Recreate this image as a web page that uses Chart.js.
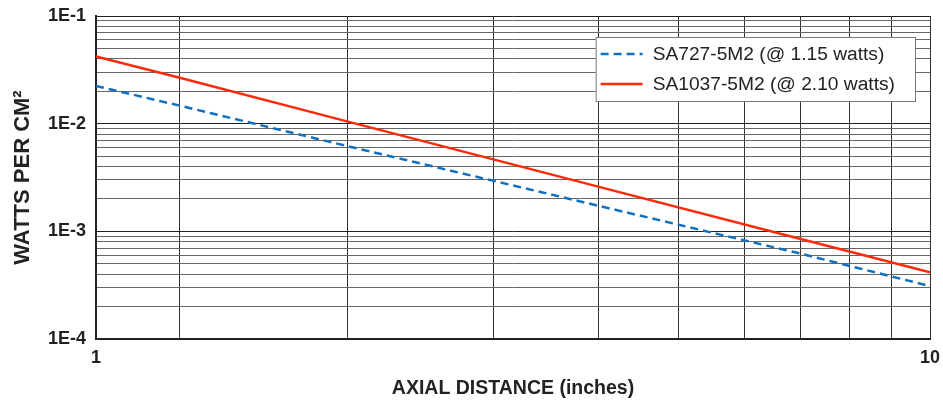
<!DOCTYPE html>
<html>
<head>
<meta charset="utf-8">
<script src="https://cdn.jsdelivr.net/npm/chart.js@4"></script>
<style>
	html, body { margin: 0; padding: 0; background: #fff; }
	#wrap { width: 943px; height: 400px; }
</style>
</head>
<body>
<div id="wrap"><canvas id="irradianceChart" width="943" height="400"></canvas></div>
<script>

// values (axial distance in inches, watts per cm2)
const distances = [1, 1.26, 2, 4, 7, 10];
const sa727 = [0.0224, 0.0147, 0.0062, 0.00173, 0.00062, 0.00031];
const sa1037 = [0.042, 0.0267, 0.0105, 0.0026, 0.00085, 0.000416];
const seriesNames = ['SA727-5M2 (@ 1.15 watts)', 'SA1037-5M2 (@ 2.10 watts)'];

// grid / tick positions
const xTicks = [1, 1.26, 2, 3, 4, 5, 6, 7, 8, 9, 10];
const xTickLabels = { 1: '1', 10: '10' };
const yTicks = [
	1e-4, 2e-4, 3e-4, 4e-4, 5e-4, 6e-4, 7e-4, 8e-4, 9e-4,
	1e-3, 2e-3, 3e-3, 4e-3, 5e-3, 6e-3, 7e-3, 8e-3, 9e-3,
	1e-2, 2e-2, 3e-2, 4e-2, 5e-2, 6e-2, 7e-2, 8e-2, 9e-2,
	1e-1
];
const yTickLabels = { '0.0001': '1E-4', '0.001': '1E-3', '0.01': '1E-2', '0.1': '1E-1' };

const fontFamily = '"Liberation Sans", Arial, sans-serif';

function points(ys) {
	return distances.map((d, i) => ({ x: d, y: ys[i] }));
}

function isDecade(v) {
	let l = Math.log10(v);
	return Math.abs(l - Math.round(l)) < 1e-6;
}

// legend drawn inside the plot, top right
const insideLegend = {
	id: 'insideLegend',
	afterDraw(chart) {
		let ctx = chart.ctx;
		let area = chart.chartArea;
		ctx.save();
		ctx.font = '19.2px ' + fontFamily;
		let textW = 0;
		chart.data.datasets.forEach(ds => { textW = Math.max(textW, ctx.measureText(ds.label).width); });
		let w = 57 + textW + 20;
		let h = 64;
		let x0 = area.right - 15 - w;
		let y0 = area.top + 21;
		ctx.fillStyle = '#fff';
		ctx.fillRect(x0, y0, w, h);
		ctx.strokeStyle = '#777';
		ctx.lineWidth = 1;
		ctx.strokeRect(x0 + 0.5, y0 + 0.5, w, h);
		chart.data.datasets.forEach((ds, i) => {
			let yy = y0 + 17 + i * 30;
			ctx.strokeStyle = ds.borderColor;
			ctx.lineWidth = ds.borderWidth;
			ctx.setLineDash(ds.borderDash || []);
			ctx.beginPath();
			ctx.moveTo(x0 + 5, yy);
			ctx.lineTo(x0 + 47, yy);
			ctx.stroke();
			ctx.setLineDash([]);
			ctx.fillStyle = '#222';
			ctx.textBaseline = 'middle';
			ctx.fillText(ds.label, x0 + 57, yy + 1);
		});
		ctx.restore();
	}
};

function addIrradianceChart() {

	let ctx = document.getElementById('irradianceChart').getContext('2d');
	let chart = new Chart(ctx, {
		type: 'line',
		data: {
			datasets: [{
				label: seriesNames[0],
				data: points(sa727),
				borderColor: '#1170c0',
				borderWidth: 2.5,
				borderDash: [8, 5],
				pointRadius: 0,
				fill: false,
			}, {
				label: seriesNames[1],
				data: points(sa1037),
				borderColor: '#ff2a0a',
				borderWidth: 2.5,
				pointRadius: 0,
				fill: false,
			}],
		},
		plugins: [insideLegend],
		options: {
			responsive: false,
			animation: false,
			layout: { padding: { top: 16, right: 13, left: 0, bottom: 0 } },
			plugins: {
				legend: { display: false },
				tooltip: { enabled: false },
			},
			scales: {
				x: {
					type: 'logarithmic',
					min: 1,
					max: 10,
					afterBuildTicks: scale => { scale.ticks = xTicks.map(v => ({ value: v })); },
					afterFit: scale => {
						scale.height = 61;
						scale.paddingLeft = 0;
						scale.paddingRight = 0;
					},
					ticks: {
						autoSkip: false,
						maxRotation: 0,
						padding: 8,
						color: '#222',
						font: { family: fontFamily, size: 18, weight: 'bold' },
						callback: v => xTickLabels[v] || '',
					},
					grid: {
						drawTicks: false,
						color: '#333',
						lineWidth: 1,
					},
					border: { display: true, color: '#222', width: 2 },
					title: {
						display: true,
						text: 'AXIAL DISTANCE (inches)',
						color: '#222',
						font: { family: fontFamily, size: 19.5, weight: 'bold' },
						padding: { top: 0, bottom: 0 },
					},
				},
				y: {
					type: 'logarithmic',
					min: 1e-4,
					max: 1e-1,
					afterBuildTicks: scale => { scale.ticks = yTicks.map(v => ({ value: v })); },
					afterFit: scale => {
						scale.width = 96;
						scale.paddingTop = 0;
						scale.paddingBottom = 0;
					},
					ticks: {
						autoSkip: false,
						padding: 10,
						color: '#222',
						font: { family: fontFamily, size: 18, weight: 'bold' },
						callback: v => yTickLabels[String(v)] || '',
					},
					grid: {
						drawTicks: false,
						color: c => isDecade(c.tick.value) ? '#222' : '#666',
						lineWidth: 1,
					},
					border: { display: true, color: '#222', width: 2 },
					title: {
						display: true,
						text: 'WATTS PER CM²',
						color: '#222',
						font: { family: fontFamily, size: 22, weight: 'bold' },
						padding: { top: 10, bottom: 0 },
					},
				},
			},
		},
	});

}

addIrradianceChart();

</script>
</body>
</html>
